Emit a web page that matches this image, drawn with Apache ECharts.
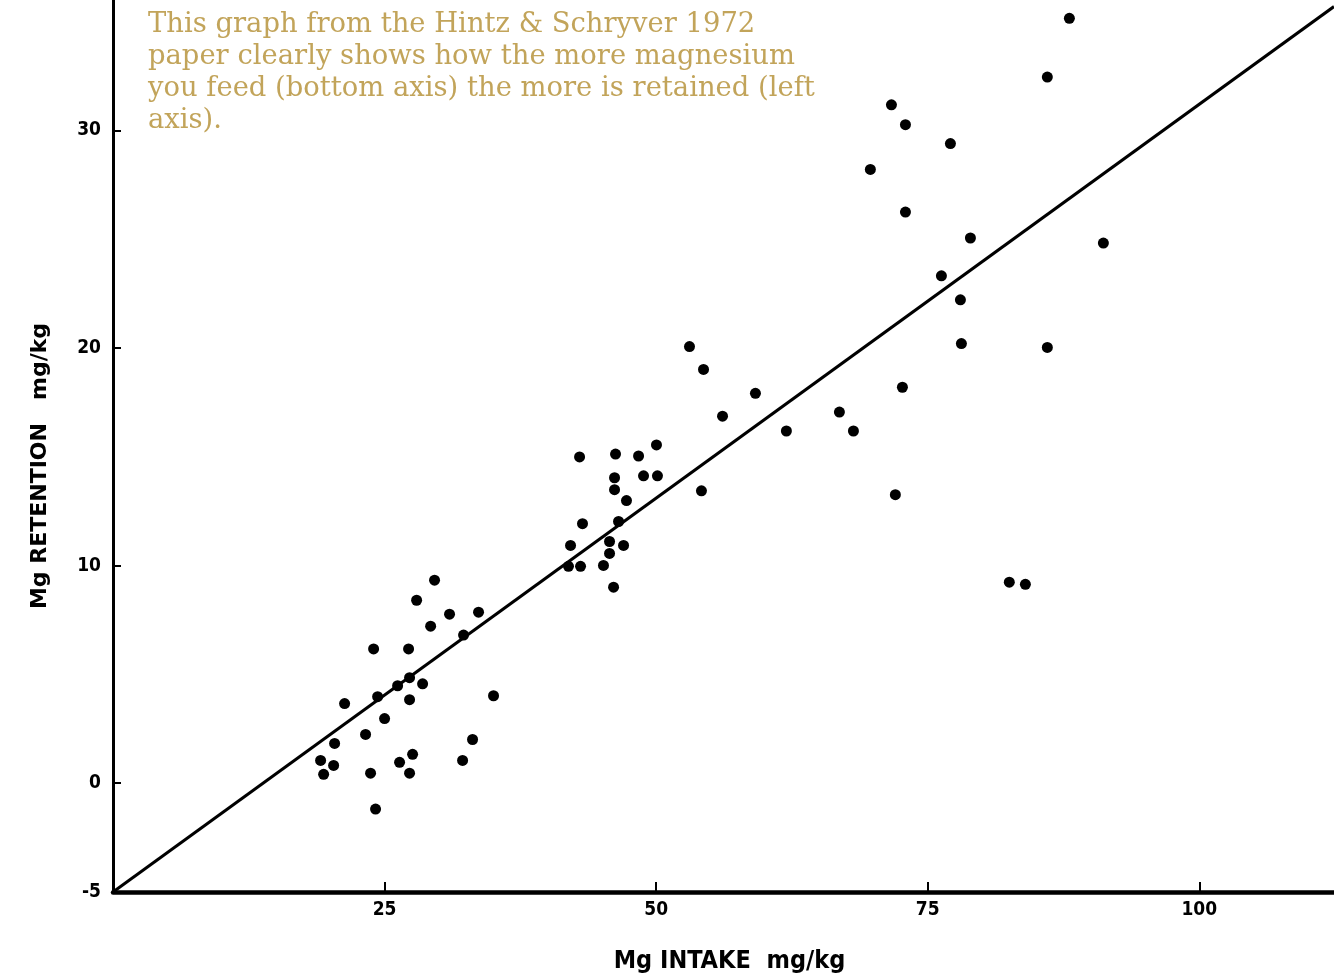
<!DOCTYPE html>
<html>
<head>
<meta charset="utf-8">
<script src="https://cdn.jsdelivr.net/npm/echarts@6/dist/echarts.min.js"></script>
<style>
  html, body { margin: 0; padding: 0; background: #fff; }
  #chart { width: 1334px; height: 979px; }
</style>
</head>
<body>
<div id="chart"></div>
<script>
// Mg intake (mg/kg) vs Mg retention (mg/kg)
const intake = [
  29.6, 27.95, 30.98, 33.65, 29.24, 32.27, 23.99, 27.21, 27.3, 26.2,
  28.5, 21.32, 24.36, 27.3, 35.03, 25.0, 23.25, 20.4, 33.1, 19.11,
  20.31, 19.39, 23.71, 26.38, 27.58, 27.3, 32.18, 24.17,
  53.07, 54.36, 59.14, 56.11, 50.03, 42.95, 46.26, 48.38, 46.17, 48.84,
  50.12, 46.17, 54.17, 47.27, 43.22, 46.54, 42.12, 45.71, 47.0, 45.71,
  41.93, 43.04, 45.15, 46.08,
  88.04, 86.01, 71.66, 72.95, 77.09, 69.72, 72.95, 78.93, 91.17, 76.26,
  78.01, 78.1, 86.01, 72.67, 66.87, 61.99, 68.16, 72.02, 82.51, 83.99
];
const retention = [
  9.33, 8.41, 7.77, 7.86, 7.22, 6.81, 6.17, 6.17, 4.85, 4.48,
  4.57, 3.66, 3.98, 3.84, 4.02, 2.97, 2.24, 1.83, 2.01, 1.05,
  0.82, 0.41, 0.46, 0.96, 1.33, 0.46, 1.05, -1.19,
  20.07, 19.02, 17.92, 16.87, 15.55, 15.0, 15.13, 15.04, 14.04, 14.13,
  14.13, 13.49, 13.44, 12.99, 11.93, 12.03, 10.93, 11.11, 10.93, 10.56,
  9.97, 9.97, 10.01, 9.01,
  35.16, 32.46, 31.18, 30.27, 29.4, 28.21, 26.25, 25.06, 24.83, 23.32,
  22.22, 20.21, 20.03, 18.2, 17.06, 16.19, 16.19, 13.26, 9.24, 9.14
];

// fitted line, end points as drawn
const fitX = [0, 112.4];
const fitY = [-5, 35.7];

const xTicks = [25, 50, 75, 100];
const yTicks = [0, 10, 20, 30];
const yLabels = [-5, 0, 10, 20, 30];

const note = [
  'This graph from the Hintz & Schryver 1972',
  'paper clearly shows how the more magnesium',
  'you feed (bottom axis) the more is retained (left',
  'axis).'
];

const drawChart = () => {
  const dom = document.getElementById('chart');
  const myChart = echarts.init(dom);

  const labelFont = {
    color: '#000',
    fontFamily: 'DejaVu Sans Condensed, Liberation Sans Narrow, sans-serif',
    fontWeight: 'bold'
  };

  const option = {
    backgroundColor: '#fff',
    animation: false,
    grid: { left: 113, right: 0, top: 0, bottom: 82 },
    xAxis: {
      type: 'value',
      min: 0,
      max: 112.4,
      name: 'Mg INTAKE  mg/kg',
      nameLocation: 'middle',
      nameGap: 57,
      nameTextStyle: Object.assign({ fontSize: 25, padding: [0, 0, 0, 12] }, labelFont),
      splitLine: { show: false },
      axisLine: { show: true, onZero: false, lineStyle: { color: '#000', width: 4.5 } },
      axisTick: { show: true, inside: true, length: 10, customValues: xTicks, lineStyle: { color: '#000', width: 2 } },
      axisLabel: Object.assign({ customValues: xTicks, fontSize: 19, margin: 9 }, labelFont)
    },
    yAxis: {
      type: 'value',
      min: -5,
      max: 36,
      name: 'Mg RETENTION   mg/kg',
      nameLocation: 'middle',
      nameRotate: 90,
      nameGap: 62,
      nameTextStyle: {
        color: '#000',
        fontFamily: 'DejaVu Sans, sans-serif',
        fontWeight: 'bold',
        fontSize: 22,
        padding: [0, 40, 0, 0]
      },
      splitLine: { show: false },
      axisLine: { show: true, onZero: false, lineStyle: { color: '#000', width: 3 } },
      axisTick: { show: true, inside: true, length: 8, customValues: yTicks, lineStyle: { color: '#000', width: 2 } },
      axisLabel: Object.assign({ customValues: yLabels, fontSize: 19, margin: 12 }, labelFont)
    },
    graphic: [
      {
        type: 'text',
        left: 148,
        top: 9,
        style: {
          text: note.join('\n'),
          fill: '#c2a45a',
          font: '27.4px "DejaVu Serif", serif',
          lineHeight: 32
        }
      }
    ],
    series: [
      {
        type: 'line',
        data: fitX.map((x, i) => [x, fitY[i]]),
        symbol: 'none',
        clip: false,
        lineStyle: { color: '#000', width: 3 }
      },
      {
        type: 'scatter',
        data: intake.map((x, i) => [x, retention[i]]),
        symbol: 'circle',
        symbolSize: 11,
        itemStyle: { color: '#000', opacity: 1 }
      }
    ]
  };

  myChart.setOption(option);
};

window.onload = function () {
  drawChart();
};
</script>
</body>
</html>
